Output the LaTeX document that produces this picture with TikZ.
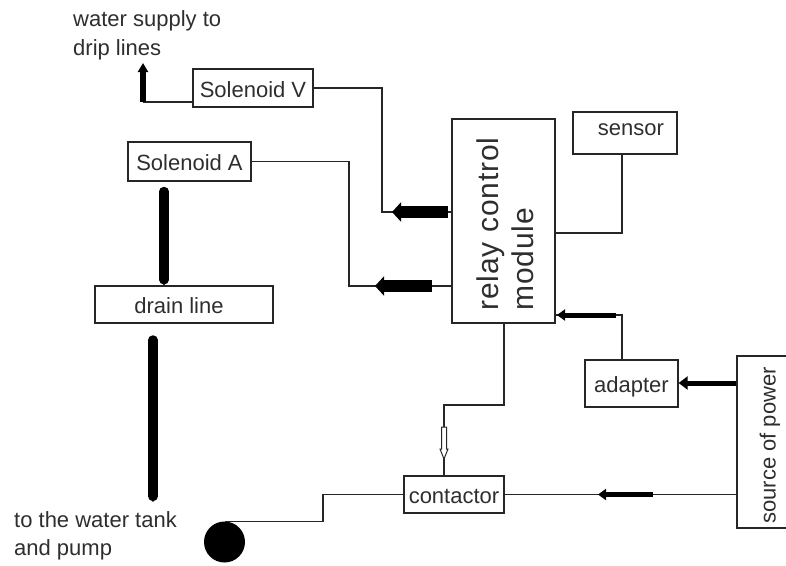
\documentclass[tikz,border=0pt]{standalone}
\usepackage{fontspec}
\setmainfont{Liberation Sans}
\usetikzlibrary{arrows.meta}
\definecolor{ink}{HTML}{262626}
\definecolor{txt}{HTML}{2E2E2E}
\begin{document}
\begin{tikzpicture}[x=1pt,y=-1pt,
  color=ink,
  box/.style={draw=ink, line width=1.25pt, inner sep=0pt, text=txt,
    font=\fontsize{22}{26}\selectfont, text height=18pt, text depth=0pt},
  lbl/.style={inner sep=0pt, text=txt, font=\fontsize{22}{26}\selectfont, anchor=base west},
  wire/.style={draw=ink, line width=1.2pt},
  fatL/.style={draw=black, line width=12pt, -{Triangle[length=9pt,width=19pt]}},
  fatS/.style={draw=black, line width=5pt, -{Triangle[length=8pt,width=11pt]}},
  bar/.style={draw=black, line width=9.5pt, line cap=round, -{Triangle[length=6pt,width=9.5pt]}},
]
\useasboundingbox (0,0) rectangle (786,565);

% boxes
\node[box, minimum width=120pt, minimum height=38pt] (solV) at (253,88) {Solenoid V};
\node[box, minimum width=123pt, minimum height=39pt] (solA) at (189.5,161.5) {Solenoid A};
\node[box, minimum width=178pt, minimum height=37pt] (drain) at (184,304.5) {};
\node[lbl, anchor=base] (draintext) at (179,313) {drain line};
\node[box, minimum width=103pt, minimum height=204pt] (relay) at (503.5,221) {};
\node[inner sep=0pt, text=txt, font=\fontsize{30}{35}\selectfont\addfontfeatures{LetterSpace=3}, rotate=90, align=left] (relaytext) at (505.5,224) {relay control\\module};
\node[box, minimum width=104pt, minimum height=42pt] (sensor) at (625,133) {};
\node[lbl, anchor=base] (sensortext) at (631,135) {sensor};
\node[box, minimum width=93pt, minimum height=47pt] (adapter) at (631.5,383.5) {adapter};
\node[box, minimum width=66pt, minimum height=172pt] (source) at (770,442) {};
\node[inner sep=0pt, text=txt, font=\fontsize{22}{26}\selectfont, rotate=90] (sourcetext) at (770,445.5) {source of power};
\node[box, minimum width=100pt, minimum height=37pt] (contactor) at (454,494.5) {contactor};
\node[circle, fill=black, draw=none, inner sep=0pt, minimum size=41pt] (ball) at (224.5,542) {};

% free labels
\node[lbl] (ws1) at (73,26) {water supply to};
\node[lbl] (ws2) at (73,55) {drip lines};
\node[lbl] (tank1) at (14,527) {to the water tank};
\node[lbl] (tank2) at (14,555) {and pump};

% Solenoid V -- relay
\coordinate (cV) at (382,212);
\draw[wire] (solV.east) -| (cV) -- (cV -| relay.west);
\draw[fatL] (448,212) -- (392,212);

% Solenoid A -- relay
\coordinate (cA) at (349,286);
\draw[wire] (solA.east) -| (cA) -- (cA -| relay.west);
\draw[fatL] (432,286) -- (375,286);

% sensor -- relay
\coordinate (cS) at (622,233);
\draw[wire] (cS |- sensor.south) -- (cS) -- (cS -| relay.east);

% adapter -- relay
\coordinate (cAd) at (622,315);
\draw[wire] (cAd |- adapter.north) -- (cAd) -- (cAd -| relay.east);
\draw[fatS] (616,315) -- (557,315);

% source -- adapter
\coordinate (cP) at (737,383);
\draw[draw=black, line width=5pt, -{Triangle[length=9pt,width=13pt]}] (cP -| source.west) -- (cP -| adapter.east);

% source -- contactor
\draw[wire] (source.west |- contactor.east) -- (contactor.east);
\draw[fatS] (653,494.5) -- (598,494.5);

% relay -- contactor
\coordinate (cR1) at (504,405);
\coordinate (cR2) at (444,405);
\draw[wire] (cR1 |- relay.south) -- (cR1) -- (cR2) -- (cR2 |- contactor.north);
\draw[draw=ink, line width=1pt, fill=white]
  (441.5,427) -- (446.5,427) -- (446.5,449) -- (448,449) -- (444,459) -- (440,449) -- (441.5,449) -- cycle;

% contactor -- pump ball
\coordinate (cB) at (323,494.5);
\draw[wire] (contactor.west) -- (cB) |- (ball.north);

% Solenoid V -- drip lines
\coordinate (cW) at (143,102);
\coordinate (cWt) at (143,63);
\draw[wire] (cW -| solV.west) -- (cW);
\draw[draw=black, line width=6pt, -{Triangle[length=9pt,width=10pt]}] (cW) -- (cWt);

% Solenoid A -- drain line, drain line -- tank
\coordinate (d1) at (164,191.5);
\coordinate (d2) at (153,340);
\coordinate (d3) at (153,502);
\draw[bar] (d1) -- (d1 |- drain.north);
\draw[bar] (d2) -- (d3);
\end{tikzpicture}
\end{document}
